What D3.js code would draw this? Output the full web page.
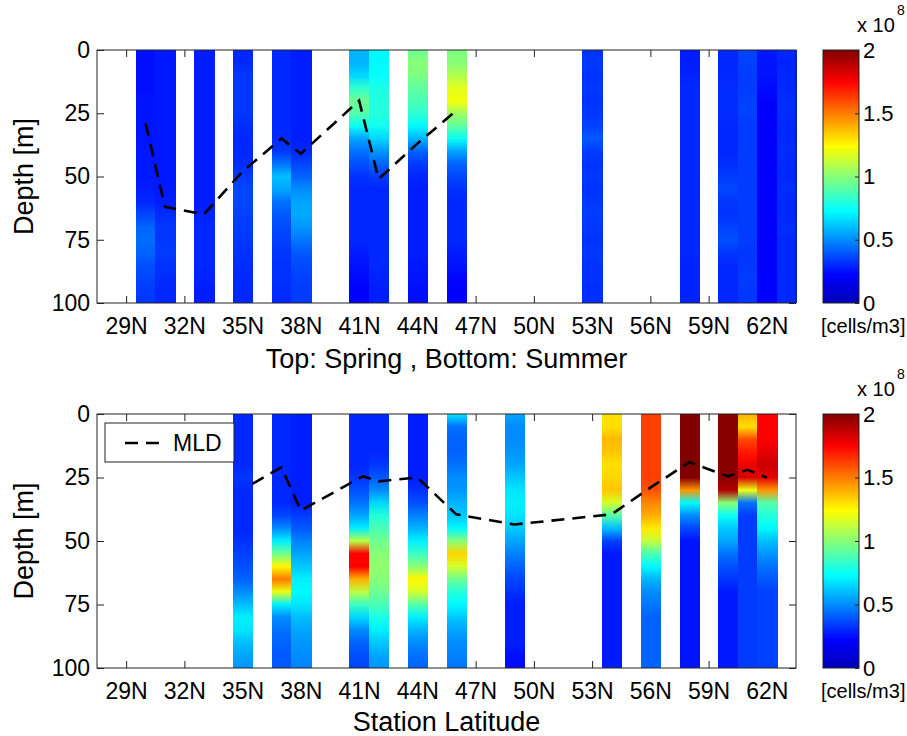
<!DOCTYPE html>
<html>
<head>
<meta charset="utf-8">
<script src="https://cdn.jsdelivr.net/npm/d3@7"></script>
<style>
  body { margin: 0; background: #fff; }
  text { font-family: "Liberation Sans", Arial, Helvetica, sans-serif; fill: #000; }
</style>
</head>
<body>
<svg id="chart" width="907" height="736"></svg>
<script>
// depth levels (m) at which each profile was read
var depths = [0, 5, 10, 15, 20, 25, 30, 35, 40, 45, 50, 55, 60, 65, 70, 75, 80, 85, 90, 95, 100];

// spring (top panel), values in 1e8 cells/m3
var springLats = [30, 31, 33, 35, 37, 38, 41, 42, 44, 46, 53, 58, 60, 61, 62, 63];
var springValues = [
  [0.25,0.25,0.25,0.25,0.26,0.26,0.26,0.26,0.27,0.27,0.27,0.28,0.30,0.36,0.42,0.44,0.42,0.38,0.36,0.34,0.33],
  [0.27,0.27,0.27,0.27,0.27,0.27,0.27,0.27,0.27,0.27,0.27,0.27,0.28,0.31,0.33,0.33,0.34,0.32,0.31,0.30,0.30],
  [0.28,0.28,0.28,0.28,0.28,0.28,0.28,0.28,0.28,0.28,0.28,0.28,0.28,0.29,0.30,0.30,0.30,0.30,0.29,0.28,0.28],
  [0.30,0.30,0.33,0.33,0.33,0.33,0.31,0.30,0.30,0.31,0.34,0.36,0.36,0.35,0.34,0.33,0.32,0.31,0.30,0.30,0.30],
  [0.30,0.30,0.30,0.30,0.30,0.30,0.30,0.31,0.33,0.45,0.60,0.55,0.45,0.40,0.37,0.35,0.33,0.32,0.32,0.31,0.30],
  [0.28,0.28,0.28,0.28,0.28,0.28,0.28,0.28,0.30,0.36,0.42,0.50,0.55,0.56,0.52,0.46,0.40,0.37,0.35,0.34,0.34],
  [0.58,0.58,0.65,0.82,0.95,0.90,0.75,0.55,0.45,0.38,0.32,0.30,0.30,0.30,0.30,0.30,0.28,0.26,0.24,0.22,0.22],
  [0.72,0.72,0.74,0.78,0.80,0.80,0.76,0.65,0.52,0.42,0.34,0.30,0.30,0.30,0.30,0.30,0.30,0.30,0.29,0.28,0.28],
  [0.95,1.00,0.98,0.92,0.88,0.82,0.72,0.58,0.42,0.34,0.30,0.28,0.28,0.28,0.28,0.28,0.28,0.27,0.26,0.25,0.25],
  [0.98,1.00,1.08,1.18,1.22,1.05,0.92,0.75,0.55,0.42,0.36,0.32,0.30,0.30,0.30,0.30,0.28,0.26,0.23,0.22,0.22],
  [0.32,0.33,0.32,0.33,0.32,0.33,0.35,0.40,0.34,0.32,0.33,0.32,0.33,0.34,0.33,0.32,0.33,0.32,0.32,0.31,0.32],
  [0.28,0.28,0.29,0.30,0.30,0.30,0.30,0.30,0.30,0.30,0.30,0.30,0.30,0.30,0.30,0.30,0.30,0.29,0.29,0.29,0.29],
  [0.30,0.30,0.30,0.31,0.31,0.31,0.30,0.30,0.30,0.31,0.34,0.36,0.33,0.32,0.35,0.38,0.33,0.30,0.30,0.30,0.30],
  [0.36,0.35,0.34,0.34,0.35,0.35,0.34,0.34,0.34,0.34,0.34,0.34,0.34,0.34,0.34,0.34,0.33,0.33,0.34,0.33,0.33],
  [0.27,0.26,0.26,0.24,0.22,0.21,0.21,0.21,0.21,0.21,0.21,0.21,0.21,0.21,0.21,0.21,0.21,0.21,0.22,0.22,0.22],
  [0.30,0.29,0.30,0.30,0.31,0.31,0.30,0.30,0.31,0.30,0.30,0.31,0.30,0.30,0.31,0.30,0.30,0.30,0.30,0.30,0.30]
];
var springMldLats = [30, 31, 33, 35, 37, 38, 41, 42, 44, 46];
var springMldDepths = [29, 62, 65, 48, 35, 41, 20, 51, 37, 24];

// summer (bottom panel)
var summerLats = [35, 37, 38, 41, 42, 44, 46, 49, 54, 56, 58, 60, 61, 62];
var summerValues = [
  [0.30,0.30,0.30,0.30,0.30,0.33,0.30,0.30,0.30,0.30,0.32,0.35,0.38,0.42,0.50,0.60,0.70,0.68,0.60,0.55,0.52],
  [0.30,0.30,0.30,0.30,0.30,0.30,0.30,0.30,0.36,0.50,0.70,0.95,1.25,1.50,1.20,0.70,0.50,0.45,0.42,0.40,0.40],
  [0.28,0.28,0.28,0.28,0.28,0.28,0.28,0.28,0.34,0.40,0.48,0.55,0.62,0.70,0.72,0.68,0.60,0.55,0.52,0.50,0.48],
  [0.30,0.30,0.30,0.30,0.30,0.33,0.38,0.45,0.55,0.70,1.10,1.75,1.75,1.40,1.10,0.85,0.65,0.50,0.42,0.38,0.35],
  [0.30,0.30,0.30,0.30,0.33,0.40,0.50,0.65,0.80,0.88,0.95,1.00,1.02,1.00,0.95,0.88,0.78,0.70,0.62,0.55,0.52],
  [0.28,0.28,0.28,0.28,0.28,0.28,0.32,0.38,0.48,0.58,0.70,0.85,1.00,1.25,1.15,0.90,0.70,0.58,0.50,0.45,0.42],
  [0.68,0.45,0.42,0.42,0.45,0.50,0.52,0.58,0.62,0.72,1.00,1.32,1.15,0.95,0.80,0.72,0.62,0.55,0.50,0.48,0.45],
  [0.55,0.50,0.50,0.52,0.55,0.62,0.68,0.70,0.68,0.62,0.55,0.48,0.42,0.36,0.32,0.28,0.28,0.28,0.28,0.25,0.24],
  [1.30,1.30,1.38,1.35,1.30,1.32,1.35,1.15,0.90,0.60,0.35,0.27,0.27,0.27,0.27,0.27,0.27,0.27,0.27,0.27,0.28],
  [1.62,1.62,1.62,1.62,1.62,1.62,1.58,1.48,1.40,1.28,1.12,0.88,0.72,0.58,0.50,0.46,0.42,0.42,0.42,0.42,0.42],
  [2.00,2.00,2.00,2.00,2.00,2.00,1.45,0.72,0.50,0.36,0.26,0.26,0.26,0.26,0.26,0.26,0.26,0.26,0.26,0.26,0.26],
  [1.98,1.98,1.98,1.98,1.98,1.98,1.90,1.00,0.75,0.62,0.55,0.45,0.38,0.33,0.27,0.27,0.27,0.27,0.27,0.27,0.27],
  [1.40,1.30,1.60,1.70,1.78,1.82,1.20,0.45,0.34,0.34,0.34,0.34,0.34,0.34,0.34,0.34,0.34,0.34,0.34,0.34,0.34],
  [1.75,1.75,1.75,1.80,1.85,1.80,1.45,0.90,0.80,0.72,0.60,0.52,0.45,0.40,0.35,0.35,0.35,0.35,0.35,0.35,0.35]
];
var summerMldLats = [35.5, 37, 38, 41.2, 42, 44, 46, 49, 54, 56, 58, 60, 61, 62];
var summerMldDepths = [27.5, 21, 38, 24.5, 26.5, 25, 39.5, 43.5, 39.5, 29, 19, 24.5, 22, 25];

var latTicks = [29, 32, 35, 38, 41, 44, 47, 50, 53, 56, 59, 62];
var depthTicks = [0, 25, 50, 75, 100];
var colorTicks = [0, 0.5, 1, 1.5, 2];

var plotLeft = 97, plotRight = 796;
var cbLeft = 823, cbRight = 859;
var tickLen = 7;

var svg = d3.select("#chart");
var defs = svg.append("defs");

var x = d3.scaleLinear().domain([27.5, 63.5]).range([plotLeft, plotRight]);

// MATLAB jet (low end a little lighter, as in the picture)
var jet = d3.scaleLinear()
    .domain([0, 0.222, 0.730, 1.238, 1.746, 2])
    .range(["#0000b8", "#0000ff", "#00ffff", "#ffff00", "#ff0000", "#800000"])
    .clamp(true);

function drawPanel(id, top, bottom, lats, values, mldLats, mldDepths, opts) {
  var y = d3.scaleLinear().domain([0, 100]).range([top, bottom]);
  var g = svg.append("g").attr("class", "panel " + id);

  // ticks first, data covers them like MATLAB's bottom layer
  g.append("g")
      .attr("transform", `translate(0, ${bottom})`)
      .call(d3.axisBottom(x).tickValues(latTicks).tickSizeInner(-tickLen).tickSizeOuter(0)
          .tickPadding(15).tickFormat(function(d) { return d + "N"; }))
      .call(styleAxis);
  g.append("g")
      .attr("transform", `translate(0, ${top})`)
      .call(d3.axisTop(x).tickValues(latTicks).tickSizeInner(-tickLen).tickSizeOuter(0)
          .tickFormat(""))
      .call(styleAxis);
  g.append("g")
      .attr("transform", `translate(${plotLeft}, 0)`)
      .call(d3.axisLeft(y).tickValues(depthTicks).tickSizeInner(-tickLen).tickSizeOuter(0)
          .tickPadding(7))
      .call(styleAxis);
  g.append("g")
      .attr("transform", `translate(${plotRight}, 0)`)
      .call(d3.axisRight(y).tickValues(depthTicks).tickSizeInner(-tickLen).tickSizeOuter(0)
          .tickFormat(""))
      .call(styleAxis);

  // one gradient per station column
  lats.forEach(function(lat, i) {
    var grad = defs.append("linearGradient")
        .attr("id", `${id}-col-${lat}`)
        .attr("gradientUnits", "userSpaceOnUse")
        .attr("x1", 0).attr("x2", 0)
        .attr("y1", y(0)).attr("y2", y(100));
    grad.selectAll("stop")
        .data(depths)
        .enter().append("stop")
            .attr("offset", function(d) { return (y(d) - y(0)) / (y(100) - y(0)); })
            .attr("stop-color", function(d, j) { return jet(values[i][j]); });
  });

  g.selectAll("rect.col")
      .data(lats)
      .enter().append("rect")
          .attr("class", "col")
          .attr("shape-rendering", "crispEdges")
          .attr("x", function(d) { return Math.round(x(d - 0.5)); })
          .attr("width", function(d) { return Math.round(x(d + 0.5)) - Math.round(x(d - 0.5)) + 0.5; })
          .attr("y", y(0))
          .attr("height", y(100) - y(0))
          .attr("fill", function(d) { return `url(#${id}-col-${d})`; });

  g.append("rect")
      .attr("x", plotLeft).attr("y", top)
      .attr("width", plotRight - plotLeft).attr("height", bottom - top)
      .attr("fill", "none").attr("stroke", "#222").attr("stroke-width", 1);

  var mld = d3.line()
      .x(function(d) { return x(d[0]); })
      .y(function(d) { return y(d[1]); });
  g.append("path")
      .datum(d3.zip(mldLats, mldDepths))
      .attr("d", mld)
      .attr("fill", "none")
      .attr("stroke", "#000")
      .attr("stroke-width", 2.6)
      .attr("stroke-dasharray", "13,8");

  g.append("text")
      .attr("transform", `translate(33, ${(top + bottom) / 2}) rotate(-90)`)
      .attr("text-anchor", "middle")
      .style("font-size", "27px")
      .text("Depth [m]");

  g.append("text")
      .attr("x", (plotLeft + plotRight) / 2)
      .attr("y", opts.labelY)
      .attr("text-anchor", "middle")
      .style("font-size", "27px")
      .text(opts.label);

  // colorbar
  var cy = d3.scaleLinear().domain([0, 2]).range([bottom, top]);
  var cbGrad = defs.append("linearGradient")
      .attr("id", `${id}-cb`)
      .attr("x1", 0).attr("x2", 0).attr("y1", 1).attr("y2", 0);
  cbGrad.selectAll("stop")
      .data(jet.domain())
      .enter().append("stop")
          .attr("offset", function(d) { return d / 2; })
          .attr("stop-color", function(d) { return jet(d); });
  g.append("rect")
      .attr("x", cbLeft).attr("y", top)
      .attr("width", cbRight - cbLeft).attr("height", bottom - top)
      .attr("fill", `url(#${id}-cb)`)
      .attr("stroke", "#222").attr("stroke-width", 1);
  g.append("g")
      .attr("transform", `translate(${cbRight}, 0)`)
      .call(d3.axisRight(cy).tickValues(colorTicks).tickSizeInner(-4).tickSizeOuter(0)
          .tickPadding(4).tickFormat(function(d) { return String(d); }))
      .call(styleAxis)
      .selectAll("text").style("font-size", "22px");
  g.append("text")
      .attr("x", 857).attr("y", top - 18)
      .style("font-size", "20px")
      .text("x 10");
  g.append("text")
      .attr("x", 897).attr("y", top - 35)
      .style("font-size", "14px")
      .text("8");
  g.append("text")
      .attr("x", 821).attr("y", bottom + 30)
      .style("font-size", "20px")
      .text("[cells/m3]");

  if (opts.legend) {
    var lg = g.append("g").attr("transform", `translate(105, ${top + 9})`);
    lg.append("rect")
        .attr("width", 129).attr("height", 39)
        .attr("fill", "#fff").attr("stroke", "#222").attr("stroke-width", 1);
    lg.append("line")
        .attr("x1", 20).attr("x2", 62)
        .attr("y1", 20).attr("y2", 20)
        .attr("stroke", "#000").attr("stroke-width", 2.6)
        .attr("stroke-dasharray", "13,8");
    lg.append("text")
        .attr("x", 68).attr("y", 28)
        .style("font-size", "23px")
        .text("MLD");
  }
}

function styleAxis(sel) {
  sel.select(".domain").remove();
  sel.selectAll(".tick line").attr("stroke", "#222");
  sel.selectAll("text")
      .style("font-size", "23px")
      .style("font-family", '"Liberation Sans", Arial, Helvetica, sans-serif')
      .attr("fill", "#000");
}

drawPanel("spring", 50, 303, springLats, springValues, springMldLats, springMldDepths,
    {label: "Top: Spring , Bottom: Summer", labelY: 368, legend: false});
drawPanel("summer", 414, 668, summerLats, summerValues, summerMldLats, summerMldDepths,
    {label: "Station Latitude", labelY: 731, legend: true});
</script>
</body>
</html>
